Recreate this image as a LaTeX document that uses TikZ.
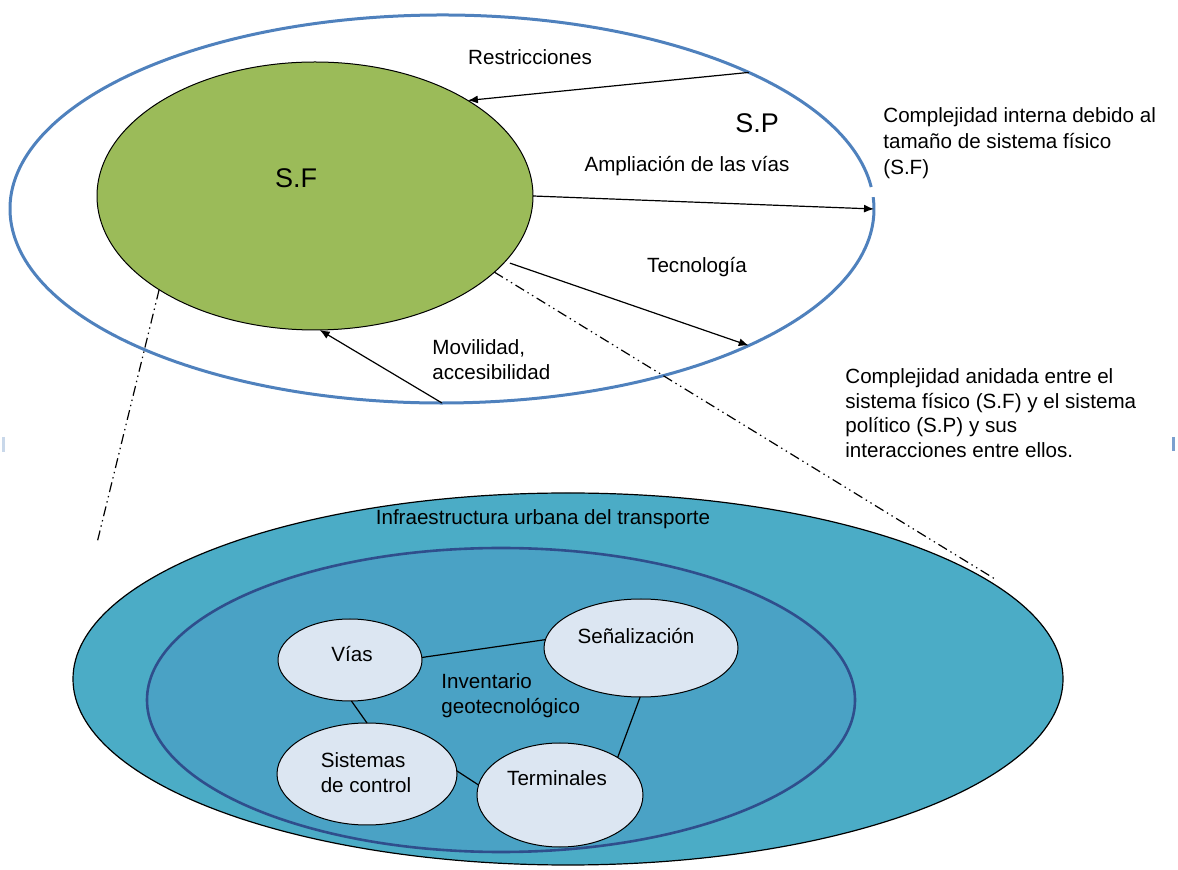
\documentclass[tikz,border=0pt]{standalone}
\usepackage{fontspec}
\setmainfont{Liberation Sans}
\usetikzlibrary{shapes.geometric,arrows.meta}

\definecolor{spblue}{HTML}{4F81BD}
\definecolor{sfgreen}{HTML}{9BBB59}
\definecolor{infrateal}{HTML}{4BACC6}
\definecolor{invblue}{HTML}{4AA2C5}
\definecolor{invedge}{HTML}{2F4E8C}
\definecolor{itemfill}{HTML}{DCE6F2}
\definecolor{tickleft}{HTML}{C9D8EA}
\definecolor{tickright}{HTML}{7BA0CF}

\begin{document}
\begin{tikzpicture}[x=0.5pt,y=-0.5pt,
  blob/.style={ellipse, inner sep=0pt, outer sep=0pt, draw=black, line width=0.5pt},
  item/.style={blob, fill=itemfill},
  txt/.style={font=\fontsize{10.3}{12.4}\selectfont, inner sep=0pt},
  big/.style={font=\fontsize{13.5}{16}\selectfont, inner sep=0pt},
  flow/.style={draw=black, line width=0.6pt, -{Latex[length=5pt,width=4pt]}},
  link/.style={draw=black, line width=0.6pt},
  zoomline/.style={draw=black, line width=0.6pt,
    dash pattern=on 5pt off 2pt on 0.7pt off 2pt on 0.7pt off 2pt}]

\useasboundingbox (0,0) rectangle (1178,870);

% political system (outer ring, drawn with a small break on the right)
\node[blob, draw=none, minimum width=432pt, minimum height=194pt] (sp) at (442,209) {};
\draw[spblue, line width=1.5pt] (sp.center) ++(6.5:216pt and 97pt)
  arc[start angle=6.5, end angle=363.5, x radius=216pt, y radius=97pt];

% physical system
\node[blob, fill=sfgreen, minimum width=218pt, minimum height=134pt] (sf) at (315,196) {};

\node[big] (sflabel) at (296,178) {S.F};
\node[big] (splabel) at (757,123) {S.P};

% interactions between S.P and S.F
\draw[flow] (sp.24.3) -- (sf.32.8);
\draw[flow] (sf.0.8) -- (sp.0);
\draw[flow, shorten <=2.5pt] (sf.-19) -- (sp.-24);
\draw[flow] (sp.-90) -- (sf.-88.7);

\node[txt] (lrest) at (530,57) {Restricciones};
\node[txt] (lamp) at (687,166) {Ampliación de las vías};
\node[txt] (ltec) at (697,267) {Tecnología};
\node[txt, align=left, anchor=north west] (lmov) at (432,339) {Movilidad,\\accesibilidad};

% side notes
\node[txt, font=\fontsize{10.3}{13}\selectfont, align=left, anchor=north west] (note1) at (883,107)
  {Complejidad interna debido al\\tamaño de sistema físico\\(S.F)};
\node[txt, align=left, anchor=north west] (note2) at (845,368)
  {Complejidad anidada entre el\\sistema físico (S.F) y el sistema\\político (S.P) y sus\\interacciones entre ellos.};

% zoom lines down to the detail view
\coordinate (zl) at (97,543);
\coordinate (zr) at (995,579);
\draw[zoomline] (sf.211.4) -- (zl);
\draw[zoomline] (sf.-23.3) -- (zr);

% small edge marks
\draw[tickleft, line width=1.5pt] (3,437) -- (3,452);
\draw[tickright, line width=1.5pt] (1173,437) -- (1173,451);

% detail: urban transport infrastructure
\node[blob, fill=infrateal, line width=0.6pt, minimum width=495pt, minimum height=186pt] (infra) at (568,679) {};
\node[ellipse, inner sep=0pt, outer sep=0pt, draw=invedge, line width=1.3pt, fill=invblue,
  minimum width=354pt, minimum height=152pt] (inv) at (501,700) {};

\node[item, minimum width=72pt, minimum height=41pt] (vias) at (350,660) {};
\node[item, minimum width=90pt, minimum height=51pt] (sist) at (367,774) {};
\node[item, minimum width=83pt, minimum height=52pt] (term) at (560,795) {};
\node[item, minimum width=97pt, minimum height=49pt] (senal) at (641,648) {};

\draw[link] (vias.2) -- (senal.175);
\draw[link] (vias.-88) -- (sist.90);
\draw[link] (sist.2) -- (term.173);
\draw[link] (senal.-91) -- (term.33);

\node[txt] (tvias) at (352,654) {Vías};
\node[txt, align=left] (tsist) at (366,773) {Sistemas\\de control};
\node[txt] (tterm) at (557,778) {Terminales};
\node[txt] (tsenal) at (636,636) {Señalización};
\node[txt] (tinfra) at (543,519) {Infraestructura urbana del transporte};
\node[txt, align=left, anchor=north west] (tinv) at (441,673) {Inventario\\geotecnológico};

\end{tikzpicture}
\end{document}
